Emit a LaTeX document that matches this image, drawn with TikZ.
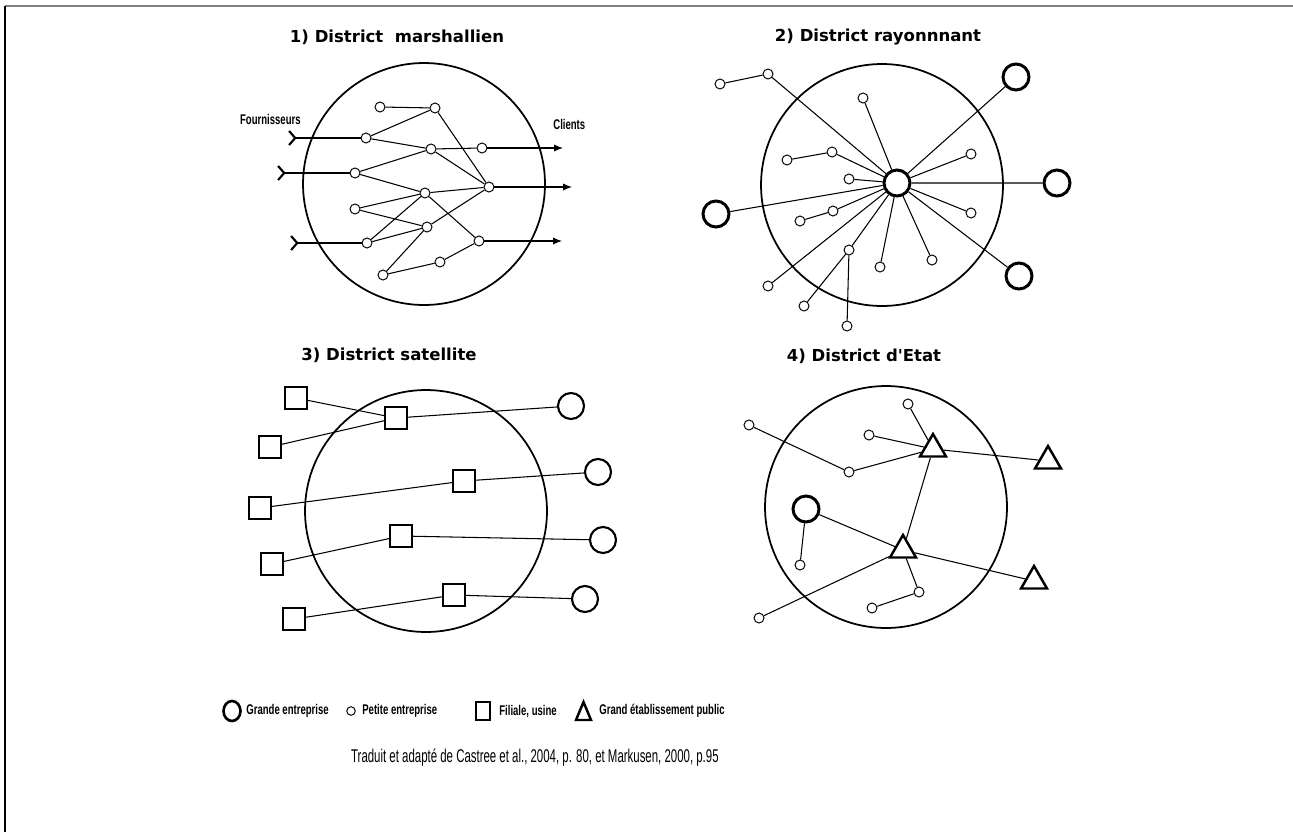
\documentclass[tikz,border=0pt]{standalone}
\usepackage{fontspec}
\setmainfont{DejaVu Sans}
\newfontfamily\narrowfont{Liberation Sans}[FakeStretch=0.68]
\newfontfamily\sourcefont{Liberation Sans}[FakeStretch=0.62]
\usetikzlibrary{arrows.meta,shapes.geometric}

\tikzset{
  district/.style={circle,draw,line width=1pt,minimum size=4.84cm,inner sep=0pt},
  petite/.style={circle,draw,line width=0.55pt,fill=white,minimum size=0.2cm,inner sep=0pt},
  grande/.style={circle,draw,line width=1.4pt,fill=white,minimum size=0.52cm,inner sep=0pt},
  filiale/.style={rectangle,draw,line width=1.2pt,fill=white,minimum size=0.43cm,inner sep=0pt},
  public/.style={regular polygon,regular polygon sides=3,draw,line width=1.4pt,fill=white,minimum size=0.6cm,inner sep=0pt},
  lien/.style={line width=0.6pt},
  entree/.style={lien,{Straight Barb[reversed,length=3.5pt,width=8pt,line width=1.2pt]}-},
  sortie/.style={lien,-{Latex[length=5pt,width=4pt]}},
  titre/.style={font=\bfseries\fontsize{9.4}{11}\selectfont},
  legende/.style={font=\narrowfont\bfseries\fontsize{8}{9}\selectfont,inner sep=0pt},
}

\begin{document}
\begin{tikzpicture}[x=0.02cm,y=-0.02cm]
    \useasboundingbox (0,0) rectangle (1293,832);
    \draw[gray,line width=0.8pt] (5,6) -- (1293,6);
    \draw[line width=0.6pt] (5,6) -- (5,832);

    % 1) district marshallien
    \node[titre] (t1) at (397,37) {1) District~\ marshallien};
    \node[district] (d1) at (424,184) {};
    \node[petite] (a1) at (380,107) {};
    \node[petite] (a2) at (435,108) {};
    \node[petite] (a3) at (366,138) {};
    \node[petite] (a4) at (431,149) {};
    \node[petite] (a5) at (482,148) {};
    \node[petite] (a6) at (355,173) {};
    \node[petite] (a7) at (425,193) {};
    \node[petite] (a8) at (489,187) {};
    \node[petite] (a9) at (355,209) {};
    \node[petite] (a10) at (427,227) {};
    \node[petite] (a11) at (367,243) {};
    \node[petite] (a12) at (479,241) {};
    \node[petite] (a13) at (440,262) {};
    \node[petite] (a14) at (383,275) {};
    \coordinate (f1) at (288,138);
    \coordinate (f2) at (277,173);
    \coordinate (f3) at (290,243);
    \coordinate (c1) at (563,148);
    \coordinate (c2) at (572,187);
    \coordinate (c3) at (562,241);
    \draw[lien] (a1)--(a2) (a2)--(a3) (a2)--(a8) (a3)--(a4) (a4)--(a5) (a4)--(a6)
      (a4)--(a8) (a6)--(a7) (a7)--(a8) (a7)--(a9) (a9)--(a10) (a7)--(a11)
      (a7)--(a12) (a10)--(a11) (a10)--(a8) (a10)--(a14) (a14)--(a13) (a13)--(a12);
    \draw[entree] (f1)--(a3);
    \draw[entree] (f2)--(a6);
    \draw[entree] (f3)--(a11);
    \draw[sortie] (a5)--(c1);
    \draw[sortie] (a8)--(c2);
    \draw[sortie] (a12)--(c3);
    \node[legende,anchor=east] (fo) at (301,119) {Fournisseurs};
    \node[legende,anchor=west] (cl) at (553,124) {Clients};

    % 2) district rayonnant
    \node[titre] (t2) at (878,37) {2) District rayonnnant};
    \node[district] (d2) at (882,185) {};
    \node[grande,line width=1.7pt] (h) at (897,183) {};
    \node[grande,line width=1.7pt] (b1) at (1016,77) {};
    \node[grande,line width=1.7pt] (b2) at (1057,183) {};
    \node[grande,line width=1.7pt] (b3) at (716,214) {};
    \node[grande,line width=1.7pt] (b4) at (1019,276) {};
    \node[petite] (s1) at (720,84) {};
    \node[petite] (s2) at (768,74) {};
    \node[petite] (s3) at (863,98) {};
    \node[petite] (s4) at (787,160) {};
    \node[petite] (s5) at (832,152) {};
    \node[petite] (s6) at (849,179) {};
    \node[petite] (s7) at (971,154) {};
    \node[petite] (s8) at (971,213) {};
    \node[petite] (s9) at (800,221) {};
    \node[petite] (s10) at (833,211) {};
    \node[petite] (s11) at (849,250) {};
    \node[petite] (s12) at (880,267) {};
    \node[petite] (s13) at (932,260) {};
    \node[petite] (s14) at (768,286) {};
    \node[petite] (s15) at (804,306) {};
    \node[petite] (s16) at (847,326) {};
    \draw[lien] (s1)--(s2) (s2)--(h) (s3)--(h) (s4)--(s5) (s5)--(h) (s6)--(h)
      (s7)--(h) (s8)--(h) (b1)--(h) (b2)--(h) (b3)--(h) (b4)--(h) (s9)--(s10)
      (s10)--(h) (s11)--(h) (s11)--(s15) (s11)--(s16) (s12)--(h) (s13)--(h) (s14)--(h);

    % 3) district satellite
    \node[titre] (t3) at (389,355) {3) District satellite};
    \node[district] (d3) at (426,511) {};
    \node[filiale] (q1) at (296,398) {};
    \node[filiale] (q2) at (270,447) {};
    \node[filiale] (q3) at (260,508) {};
    \node[filiale] (q4) at (272,564) {};
    \node[filiale] (q5) at (294,619) {};
    \node[filiale] (u1) at (396,418) {};
    \node[filiale] (u2) at (464,481) {};
    \node[filiale] (u3) at (401,536) {};
    \node[filiale] (u4) at (454,595) {};
    \node[grande,line width=1.2pt] (g1) at (571,406) {};
    \node[grande,line width=1.2pt] (g2) at (598,472) {};
    \node[grande,line width=1.2pt] (g3) at (603,540) {};
    \node[grande,line width=1.2pt] (g4) at (585,599) {};
    \draw[lien] (q1)--(u1) (q2)--(u1) (u1)--(g1) (q3)--(u2) (u2)--(g2)
      (q4)--(u3) (u3)--(g3) (q5)--(u4) (u4)--(g4);

    % 4) district d'Etat
    \node[titre] (t4) at (864,356) {4) District d\textquotesingle Etat};
    \node[district] (d4) at (886,507) {};
    \node[public] (e1) at (933,449) {};
    \node[public] (e2) at (1048,461) {};
    \node[public] (e3) at (903,550) {};
    \node[public] (e4) at (1034,581) {};
    \node[grande,line width=1.7pt] (g) at (806,509) {};
    \node[petite] (p1) at (749,425) {};
    \node[petite] (p2) at (908,404) {};
    \node[petite] (p3) at (869,435) {};
    \node[petite] (p4) at (849,472) {};
    \node[petite] (p5) at (800,565) {};
    \node[petite] (p6) at (919,592) {};
    \node[petite] (p7) at (872,608) {};
    \node[petite] (p8) at (759,618) {};
    \draw[lien] (p1)--(p4) (p4)--(e1) (p3)--(e1) (p2)--(e1) (e1)--(e2) (e1)--(e3)
      (g)--(e3) (g)--(p5) (e3)--(e4) (p8)--(e3) (e3)--(p6) (p6)--(p7);

    % legende
    \node[ellipse,draw,line width=1.5pt,minimum width=0.34cm,minimum height=0.4cm,inner sep=0pt] (l1) at (232,711) {};
    \node[legende,anchor=west] (n1) at (246,711) {Grande entreprise};
    \node[petite,minimum size=0.17cm] (l2) at (351,711) {};
    \node[legende,anchor=west] (n2) at (362,711) {Petite entreprise};
    \node[filiale,minimum width=0.27cm,minimum height=0.36cm] (l3) at (483,711) {};
    \draw[line width=1.4pt,line join=miter] (576,720) -- (583.5,702) -- (591,720) -- cycle;
    \node[legende,anchor=west] (n3) at (499,711) {Filiale, usine};
    \node[legende,anchor=west] (n4) at (599,711) {Grand établissement public};
    \node[font=\sourcefont\fontsize{10.5}{12}\selectfont,anchor=east,inner sep=0pt] (src) at (719,758)
      {Traduit et adapté de Castree et al., 2004, p. 80, et Markusen, 2000, p.95};
\end{tikzpicture}
\end{document}
